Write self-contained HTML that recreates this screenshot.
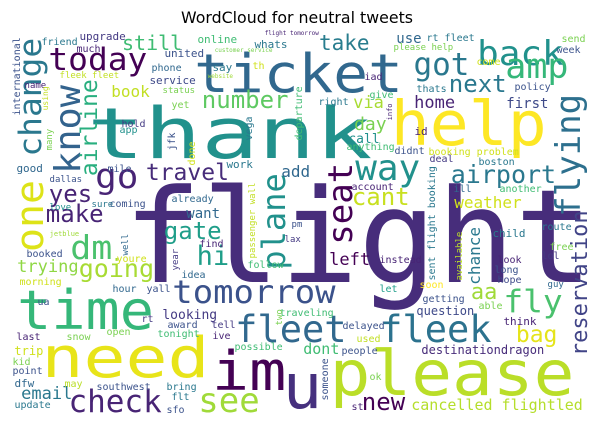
<!DOCTYPE html>
<html><head><meta charset="utf-8">
<style>
html,body{margin:0;padding:0;background:#fff;}
svg{display:block;}
text.w{font-family:"DejaVu Sans Mono","Liberation Mono",monospace;}
</style></head>
<body>
<svg id="cloud" width="597" height="427" viewBox="0 0 597 427" xmlns="http://www.w3.org/2000/svg">
<rect x="0" y="0" width="597" height="427" fill="#ffffff"/>
<text x="297" y="23" text-anchor="middle" textLength="232" lengthAdjust="spacingAndGlyphs" font-family="'DejaVu Sans','Liberation Sans',sans-serif" font-size="16" fill="#000">WordCloud for neutral tweets</text>
<g id="words"></g>
</svg>
<script>
const words = ["flight","thank","ticket","help","need","please","time","im","u","fleet","fleek","tomorrow","today","change","know","airline","one","plane","seat","flying","reservation","back","amp","got","take","next","way","airport","cant","weather","travel","go","yes","make","dm","gate","hi","going","trying","email","check","see","new","cancelled flightled","bag","fly","aa","chance","left","dont","destinationdragon","question","still","number","book","add","want","via","home","first","day","call","looking"];
const sizes = [130,95,58,65,70,68,57,62,66,37,37,34,33,33,37,23,40,32,34,34,22,36,35,31,21,24,36,25,24,16,23,36,24,24,35,24,27,25,17,17,31,34,24,15,23,33,22,16,17,15,12,12,20,24,16,16,14,17,17,14,18,13,13];
const heightScale = [1,0.74,0.92,0.95,0.8,0.92,0.95,0.88,0.95,1,1,0.95,0.95,0.95,0.95,1,0.95,1,1,1,1,0.95,1,1,1,1,1,1,1,1,1,0.95,1,1,0.95,1,1,1,1,1,1,1,1,1,1,0.95,1,1,1,1,1,1,1,1,1,1,1,1,1,1,1,1,1];
const xs = [130,92,197,394,45,333,20,215,286,237,382,174,50,41,80,97,43,285,352,580,587,479,507,415,320,450,357,452,353,455,147,97,50,47,72,165,198,80,18,22,70,200,363,412,517,505,472,480,330,304,422,417,123,203,112,282,187,354,415,507,355,349,163];
const ys = [282,158,92,145,377,395,329,390,408,342,342,303,70,155,172,175,250,268,243,215,355,65,78,75,50,92,180,183,205,208,180,188,202,222,259,239,265,277,272,399,412,412,410,410,342,312,299,284,265,354,354,315,50,108,97,177,218,108,108,108,130,143,319];
const colors = ["#472d7b","#21918c","#31688e","#fde725","#e8e419","#bade28","#35b779","#440154","#46307e","#31688e","#2c728e","#3b528b","#440154","#2a788e","#33638d","#29af7f","#dde318","#21918c","#440154","#2d708e","#414487","#21918c","#35b779","#2a788e","#287d8e","#2a788e","#21918c","#2a788e","#c8e020","#d0e11c","#472c7a","#482475","#482475","#482475","#4ac16d","#1f9e89","#1f9e89","#a8db34","#8fd744","#2a788e","#482475","#a0da39","#440154","#b5de2b","#e5e419","#4ac16d","#a0da39","#2a788e","#440154","#3fbc73","#472c7a","#3e4989","#3fbc73","#5ec962","#c2df23","#31688e","#31688e","#a8db34","#482475","#3e4989","#7ad151","#21918c","#443a83"];
const rotated = [0,0,0,0,0,0,0,0,0,0,0,0,0,1,1,1,1,1,1,1,1,0,0,0,0,0,0,0,0,0,0,0,0,0,0,0,0,0,0,0,0,0,0,0,0,0,0,1,0,0,0,0,0,0,0,0,0,0,0,0,0,0,0];

const smallWords = ["friend","upgrade","much","united","online","whats","phone","say","fleek fleet","service","name","status","th","yet","hold","app","work","good","mile","dallas","coming","already","sure","love","come","send","week","iad","thats","policy","give","right","id","anything","didnt","booking problem","deal","boston","account","ill","another","child","route","free","look","lol","long","hope","guy","instead","soon","let","getting","able","think","lax","pm","find","follow","idea","youre","hour","yall","booked","morning","jetblue","ua","rt","award","tell","traveling","last","snow","open","tonight","ive","possible","trip","kid","point","dfw","may","southwest","bring","update","flt","sfo","delayed","used","people","ok","st","use","rt fleet","please help","flight tomorrow","customer service","website","international","sent flight booking","available","passenger wall","someone","departure","many","jfk","done","vega","info","year","well","two","using"];
const smallSizes = [10,11,10,11,11,11,10,11,9,11,9,9,10,10,10,10,11,11,10,9,10,10,9,9,10,10,10,10,10,10,10,10,11,10,10,10,10,10,10,10,10,11,10,10,10,10,10,10,9,10,10,10,10,10,11,9,9,10,10,10,10,10,10,10,10,7,10,10,10,10,10,10,10,10,10,10,10,12,10,10,11,10,10,10,10,10,10,10,10,10,10,10,14,10,9,6,6,6,10,10,9,9,10,10,9,10,10,10,7,9,9,9,8];
const smallXs = [42,80,77,165,198,255,152,213,60,150,25,163,253,172,122,120,227,17,108,50,110,172,92,50,477,562,557,365,417,515,370,319,415,347,395,429,430,479,352,454,500,493,542,550,498,542,495,498,548,380,420,380,423,479,504,285,292,200,248,182,117,113,147,27,20,50,38,142,168,212,280,17,67,107,158,213,235,15,13,13,15,65,97,167,15,172,167,343,357,342,370,352,397,427,394,265,215,208,20,435,462,255,328,302,52,175,195,252,392,178,128,282,48];
const smallYs = [45,40,52,57,43,48,71,71,78,84,88,93,69,108,127,133,168,172,172,182,207,202,207,210,65,42,53,80,92,90,98,105,135,150,154,155,162,165,190,192,192,237,230,250,263,259,273,283,287,263,288,292,302,309,325,242,227,247,268,278,262,292,292,257,285,236,305,322,328,328,316,340,340,335,337,339,350,355,365,374,387,387,390,390,408,400,413,329,342,354,380,410,43,41,50,35,52,78,115,280,280,258,400,140,150,150,165,140,120,270,255,325,110];
const smallColors = ["#2a788e","#443a83","#482475","#3b528b","#3fbc73","#2a788e","#31688e","#2a788e","#c2df23","#3e4989","#482475","#7ad151","#d0e11c","#7ad151","#443a83","#21918c","#2a788e","#31688e","#3b528b","#3b528b","#3b528b","#31688e","#2a788e","#21918c","#d0e11c","#7ad151","#3b528b","#482475","#2a788e","#3b528b","#3fbc73","#2a788e","#482475","#3fbc73","#3b528b","#d0e11c","#443a83","#2a788e","#482475","#31688e","#3fbc73","#2a788e","#2a788e","#7ad151","#482475","#443a83","#3b528b","#3e4989","#31688e","#482475","#fde725","#1f9e89","#3b528b","#7ad151","#482475","#443a83","#3b528b","#482475","#3fbc73","#31688e","#d0e11c","#31688e","#3b528b","#3b528b","#d0e11c","#a0da39","#3b528b","#443a83","#3b528b","#443a83","#3fbc73","#482475","#7ad151","#7ad151","#3fbc73","#482475","#3fbc73","#d0e11c","#7ad151","#3b528b","#31688e","#bade28","#3b528b","#2a788e","#2a788e","#2a788e","#3b528b","#3b528b","#c2df23","#3b528b","#7ad151","#482475","#31688e","#2a788e","#7ad151","#482475","#7ad151","#a0da39","#3b528b","#2a788e","#bade28","#c2df23","#3b528b","#3fbc73","#7ad151","#3b528b","#d0e11c","#2a788e","#482475","#443a83","#31688e","#7ad151","#c2df23"];
const smallRotated = [0,0,0,0,0,0,0,0,0,0,0,0,0,0,0,0,0,0,0,0,0,0,0,0,0,0,0,0,0,0,0,0,0,0,0,0,0,0,0,0,0,0,0,0,0,0,0,0,0,0,0,0,0,0,0,0,0,0,0,0,0,0,0,0,0,0,0,0,0,0,0,0,0,0,0,0,0,0,0,0,0,0,0,0,0,0,0,0,0,0,0,0,0,0,0,0,0,0,1,1,1,1,1,1,1,1,1,1,1,1,1,1,1];

const NS = "http://www.w3.org/2000/svg";
const layer = document.getElementById("words");
function slug(s){return s.replace(/[^a-z0-9]+/gi,'-').toLowerCase();}
function place(text,x,y,size,color,rot,hs){
  const t = document.createElementNS(NS,"text");
  t.setAttribute("class","w");
  const px = rot ? x : x - 0.05*size;
  const py = rot ? y + 0.05*size : y;
  t.setAttribute("x",px);
  t.setAttribute("y",py);
  t.setAttribute("font-size",size*hs);
  t.setAttribute("fill",color);
  if(hs !== 1){
    t.setAttribute("textLength", text.length*0.6*size);
    t.setAttribute("lengthAdjust","spacingAndGlyphs");
  }
  if(rot){ t.setAttribute("transform","rotate(-90 "+px+" "+py+")"); }
  t.textContent = text;
  
  
  layer.appendChild(t);
}
for(let i=0;i<words.length;i++){ place(words[i],xs[i],ys[i],sizes[i],colors[i],rotated[i],heightScale[i]); }
for(let i=0;i<smallWords.length;i++){ place(smallWords[i],smallXs[i],smallYs[i],smallSizes[i],smallColors[i],smallRotated[i],1); }
</script>
</body></html>
